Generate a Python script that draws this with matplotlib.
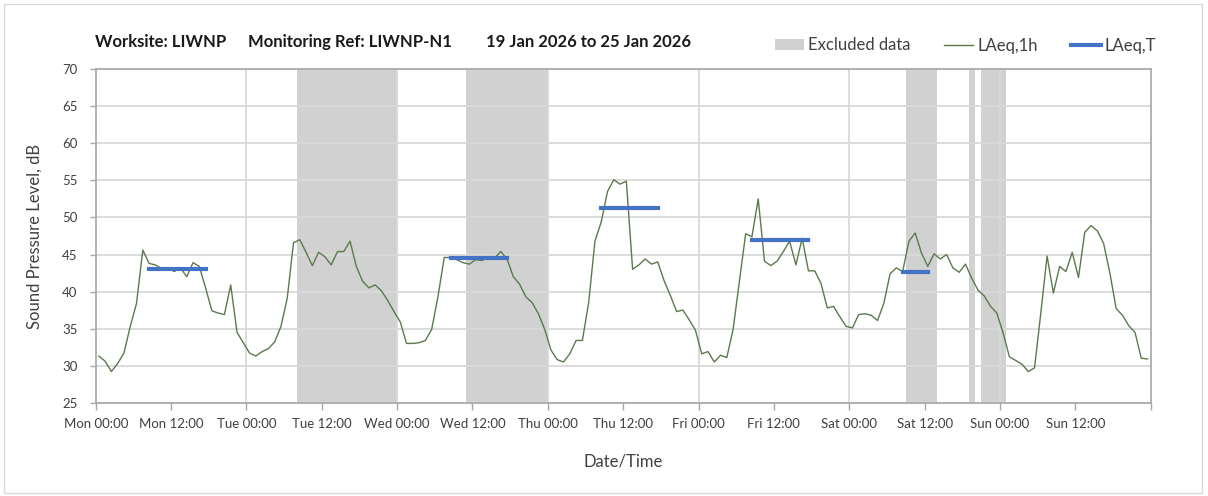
import matplotlib
matplotlib.use("Agg")
import matplotlib.pyplot as plt
from matplotlib.patches import Patch, Rectangle
from matplotlib.lines import Line2D

plt.rcParams['font.family'] = ['Lato', 'DejaVu Sans']

# ---------------- data ----------------
laeq_1h = [
    31.3, 30.6, 29.2, 30.3, 31.7, 35.3, 38.4, 45.6, 43.8, 43.6,
    43.1, 43.2, 42.7, 43.2, 42.0, 43.9, 43.4, 40.5, 37.4, 37.1,
    36.9, 40.9, 34.5, 33.1, 31.7, 31.3, 31.9, 32.3, 33.2, 35.3,
    39.1, 46.6, 47.0, 45.3, 43.5, 45.3, 44.7, 43.6, 45.4, 45.4,
    46.8, 43.4, 41.4, 40.5, 40.9, 40.1, 38.8, 37.3, 35.9, 33.0,
    33.0, 33.1, 33.4, 34.9, 39.3, 44.6, 44.6, 44.3, 43.9, 43.7,
    44.3, 44.2, 44.6, 44.5, 45.4, 44.4, 42.0, 41.0, 39.3, 38.5,
    37.0, 34.9, 32.1, 30.8, 30.5, 31.6, 33.4, 33.4, 38.5, 46.8,
    49.4, 53.5, 55.1, 54.5, 54.9, 43.0, 43.6, 44.4, 43.7, 44.0,
    41.5, 39.5, 37.3, 37.5, 36.2, 34.8, 31.6, 31.9, 30.5, 31.4,
    31.1, 34.9, 41.4, 47.8, 47.4, 52.5, 44.1, 43.5, 44.1, 45.4,
    46.8, 43.6, 47.2, 42.8, 42.8, 41.1, 37.8, 38.0, 36.6, 35.3,
    35.1, 36.9, 37.0, 36.8, 36.1, 38.4, 42.4, 43.2, 42.7, 46.8,
    47.9, 45.2, 43.4, 45.1, 44.4, 45.0, 43.2, 42.6, 43.7, 41.8,
    40.2, 39.4, 38.0, 37.1, 34.4, 31.2, 30.7, 30.2, 29.2, 29.7,
    37.1, 44.8, 39.8, 43.4, 42.7, 45.3, 41.9, 48.0, 48.9, 48.2,
    46.5, 42.5, 37.7, 36.8, 35.4, 34.5, 31.0, 30.9,
]
hour_index = list(range(len(laeq_1h)))

excl_start = [32, 59, 129, 139, 141]
excl_end = [48, 72, 134, 140, 145]

lt_start = [8, 56, 80, 104, 128]
lt_end = [17, 65, 89, 113, 132]
lt_value = [43.0, 44.5, 51.3, 46.9, 42.6]

tick_hours = list(range(0, 169, 12))
tick_labels = ["Mon 00:00", "Mon 12:00", "Tue 00:00", "Tue 12:00",
               "Wed 00:00", "Wed 12:00", "Thu 00:00", "Thu 12:00",
               "Fri 00:00", "Fri 12:00", "Sat 00:00", "Sat 12:00",
               "Sun 00:00", "Sun 12:00", ""]
day_hours = list(range(24, 168, 24))
y_ticks = list(range(25, 71, 5))

# ---------------- style ----------------
W, H = 1208, 496
GREEN = '#5A7A4C'
BLUE = '#4472C4'
SHADE = '#D1D1D1'
GRID = '#D9D9D9'
FRAME = '#A6A6A6'
TXT = '#404040'

fig = plt.figure(figsize=(W / 100, H / 100), dpi=100)
fig.patches.append(Rectangle((4 / W, 3 / H), 1198 / W, 489 / H,
                             transform=fig.transFigure, fill=False,
                             edgecolor=GRID, lw=1.0))

ax = fig.add_axes([95.7 / W, 1 - 402.7 / H, (1150.7 - 95.7) / W, (402.7 - 69.3) / H])

for s, e in zip(excl_start, excl_end):
    ax.axvspan(s, e, color=SHADE, lw=0, zorder=1)

for d in day_hours:
    ax.axvline(d, color=GRID, lw=1.3, zorder=1.5)

ax.set_axisbelow('line')
ax.yaxis.grid(True, color=GRID, lw=1.3)

x_pts = [h + 0.5 for h in hour_index]
ax.plot(x_pts, laeq_1h, color=GREEN, lw=1.0, zorder=3)

for s, e, v in zip(lt_start, lt_end, lt_value):
    ax.plot([s + 0.5, e + 0.5], [v, v], color=BLUE, lw=3.0,
            solid_capstyle='projecting', zorder=4)

ax.set_xlim(0, 168)
ax.set_ylim(25, 70)
ax.set_yticks(y_ticks)
ax.set_xticks(tick_hours)
ax.set_xticklabels(tick_labels)

for sp in ax.spines.values():
    sp.set_color(FRAME)
    sp.set_linewidth(1.2)

ax.tick_params(axis='x', direction='out', length=5, width=1.0, color=FRAME,
               labelsize=9.5, labelcolor=TXT, pad=6)
ax.tick_params(axis='y', direction='out', length=4, width=1.0, color=FRAME,
               labelsize=9.5, labelcolor=TXT, pad=9)

ax.set_ylabel("Sound Pressure Level, dB", fontsize=12, color=TXT, labelpad=14)
ax.set_xlabel("Date/Time", fontsize=12, color=TXT, labelpad=17)

# title pieces
ty = 1 - 42 / H
fig.text(95 / W, ty, "Worksite: LIWNP", fontsize=12, fontweight='bold',
         color='#1A1A1A', va='center', ha='left')
fig.text(248 / W, ty, "Monitoring Ref: LIWNP-N1", fontsize=12, fontweight='bold',
         color='#1A1A1A', va='center', ha='left')
fig.text(486 / W, ty, "19 Jan 2026 to 25 Jan 2026", fontsize=12, fontweight='bold',
         color='#1A1A1A', va='center', ha='left')

handles = [Patch(facecolor=SHADE, edgecolor='none'),
           Line2D([], [], color=GREEN, lw=1.0),
           Line2D([], [], color=BLUE, lw=3.0)]
labels = ["Excluded data", "LAeq,1h", "LAeq,T"]
leg = fig.legend(handles, labels, loc='center left',
                 bbox_to_anchor=(775 / W, 1 - 45.5 / H), ncol=3, frameon=False,
                 fontsize=12, handlelength=1.75, handletextpad=0.25,
                 columnspacing=2.0, borderpad=0, borderaxespad=0,
                 handleheight=0.6)
for t in leg.get_texts():
    t.set_color(TXT)

fig.savefig("out.png", dpi=100)
